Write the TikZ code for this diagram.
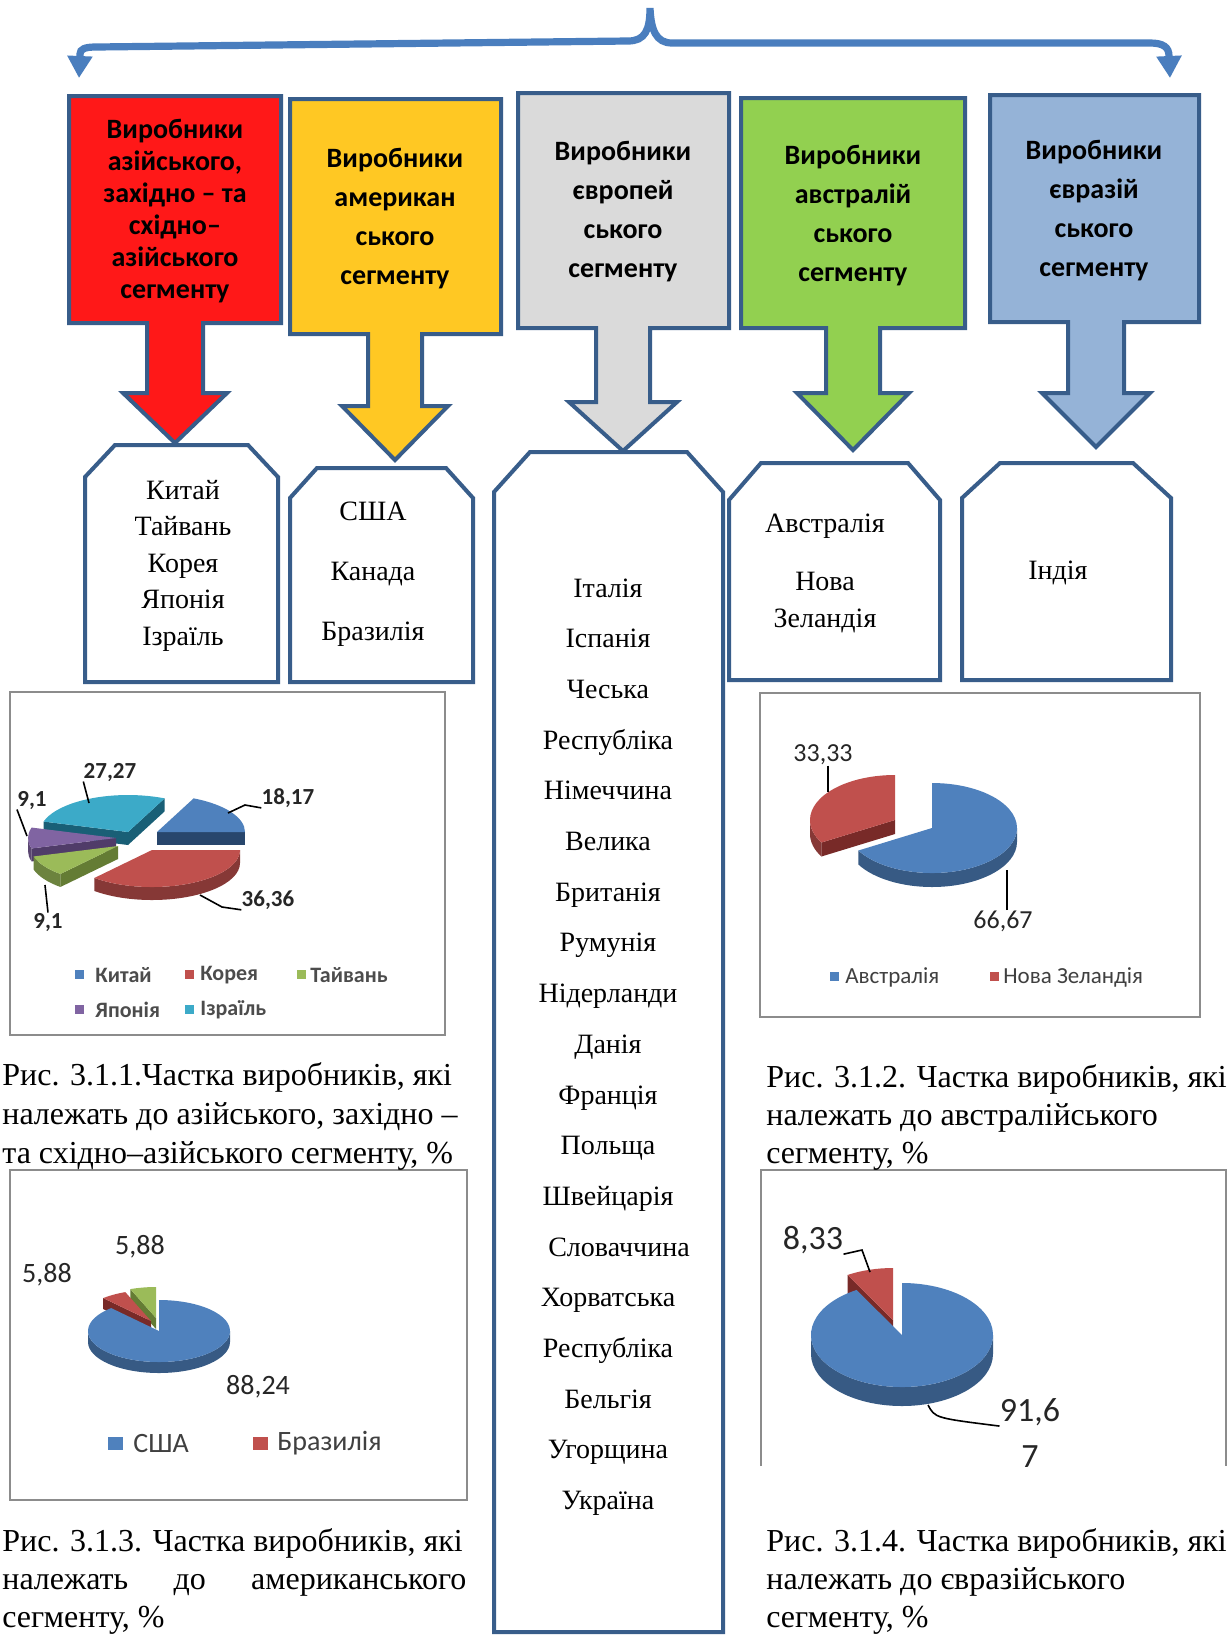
\documentclass[tikz,border=0pt]{standalone}
\usepackage{fontspec}
\setmainfont{Liberation Serif}
\newfontfamily\calfont{Carlito}
\usetikzlibrary{arrows.meta}
\definecolor{outl}{RGB}{56,93,138}
\definecolor{brc}{RGB}{74,126,190}
\definecolor{cred}{RGB}{255,24,24}
\definecolor{cyel}{RGB}{255,200,35}
\definecolor{cgray}{RGB}{218,218,218}
\definecolor{cgreen}{RGB}{146,208,80}
\definecolor{cblue}{RGB}{149,179,215}
\definecolor{pblue}{RGB}{79,129,189}\definecolor{pblued}{RGB}{40,70,108}
\definecolor{pred}{RGB}{192,80,77}\definecolor{predd}{RGB}{120,42,40}
\definecolor{pgreen}{RGB}{155,187,89}\definecolor{pgreend}{RGB}{100,124,52}
\definecolor{ppurple}{RGB}{128,100,162}\definecolor{ppurpled}{RGB}{80,60,105}
\definecolor{pcyan}{RGB}{60,170,200}\definecolor{pcyand}{RGB}{25,95,118}
\definecolor{frame}{RGB}{140,140,140}
\newcommand{\pslice}[8]{%
\begin{scope}[shift={(#1,#2)},yscale=-1]
\pgfmathtruncatemacro\vsa{cos(#3)>0.001}%
\pgfmathtruncatemacro\vsb{cos(#4)<-0.001}%
\pgfmathtruncatemacro\vss{#7<#8}%
\ifnum\vss=1
\fill[#5!70!black] ({\prx*cos(#7)},{\pry*sin(#7)}) arc[start angle=#7,end angle=#8,x radius=\prx,y radius=\pry] -- ++(0,-\pdp) arc[start angle=#8,end angle=#7,x radius=\prx,y radius=\pry] -- cycle;
\fi
\ifnum\vsa=1
\fill[#6] (0,0) -- ({\prx*cos(#3)},{\pry*sin(#3)}) -- ++(0,-\pdp) -- (0,-\pdp) -- cycle;
\fi
\ifnum\vsb=1
\fill[#6] (0,0) -- ({\prx*cos(#4)},{\pry*sin(#4)}) -- ++(0,-\pdp) -- (0,-\pdp) -- cycle;
\fi
\fill[#5] (0,0) -- ({\prx*cos(#3)},{\pry*sin(#3)}) arc[start angle=#3,end angle=#4,x radius=\prx,y radius=\pry] -- cycle;
\end{scope}}
\newcommand{\tagbox}[6]{\filldraw[wbox] (#1,#4) -- (#1,{#3+#6}) -- ({#1+#5},#3) -- ({#2-#5},#3) -- (#2,{#3+#6}) -- (#2,#4) -- cycle;}
\begin{document}
\begin{tikzpicture}[x=0.5pt,y=-0.5pt,
  cbox/.style={draw=outl,line width=2pt,line join=miter},
  wbox/.style={draw=outl,line width=2pt,fill=white,line join=miter},
  hd/.style={font=\calfont\bfseries\fontsize{14}{19.5}\selectfont,align=center,text=black,inner sep=0pt},
  wt/.style={font=\fontsize{14}{16}\selectfont,inner sep=0pt,anchor=base},
  captxt/.style={font=\fontsize{16}{18}\selectfont,inner sep=0pt,anchor=base west},
  frm/.style={draw=frame,line width=1.2pt},
  brace/.style={draw=brc,line width=3.6pt},
  lone/.style={font=\calfont\bfseries\fontsize{11.5}{13}\selectfont,inner sep=0pt,text=black!85},
  ltwo/.style={font=\calfont\fontsize{13}{15}\selectfont,inner sep=0pt,text=black!85},
  lthree/.style={font=\calfont\fontsize{14}{16}\selectfont,inner sep=0pt,text=black!85},
  lfour/.style={font=\calfont\fontsize{17}{19}\selectfont,inner sep=0pt,text=black!85},
  gone/.style={font=\calfont\bfseries\fontsize{11}{13}\selectfont,inner sep=0pt,anchor=west,text=black!70},
  gtwo/.style={font=\calfont\fontsize{11.5}{13}\selectfont,inner sep=0pt,anchor=west,text=black!75},
  gthree/.style={font=\calfont\fontsize{14}{16}\selectfont,inner sep=0pt,anchor=west,text=black!75},
  leader/.style={draw=black,line width=0.8pt}
]
\useasboundingbox (0,0) rectangle (1232,1635);
\fill[white] (0,0) rectangle (1232,1635);
% top brace
\coordinate (bL) at (79,78);
\coordinate (bR) at (1170,78);
\coordinate (bP) at (650,8);
\draw[brace,{Triangle[length=11pt,width=12pt]}-{Triangle[length=11pt,width=12pt]}]
 (bL) -- (80,54) .. controls (80,49) and (85,47) .. (96,47) -- (628,41)
 .. controls (645,41) and (650,30) .. (bP)
 .. controls (651,30) and (656,43) .. (672,43) -- (1150,43)
 .. controls (1163,43) and (1169,47) .. (1169,56) -- (bR);
% white boxes
\tagbox{85}{278}{445}{682}{30}{32}
\tagbox{290}{473}{468}{682}{27}{30}
\tagbox{494}{723}{452}{1632}{36}{40}
\tagbox{729}{940}{463}{680}{32}{37}
\tagbox{962}{1171}{463}{680}{38}{35}
% coloured callouts
\filldraw[cbox,fill=cred] (69,96) -- (281,96) -- (281,323) -- (203,323) -- (203,393) -- (227,393) -- (175,443) -- (123,393) -- (147,393) -- (147,323) -- (69,323) -- cycle;
\filldraw[cbox,fill=cyel] (290,99) -- (501,99) -- (501,334) -- (422,334) -- (422,406) -- (448,406) -- (395,460) -- (342,406) -- (368,406) -- (368,334) -- (290,334) -- cycle;
\filldraw[cbox,fill=cgray] (518,93) -- (729,93) -- (729,328) -- (650,328) -- (650,402) -- (677,402) -- (623,451) -- (569,402) -- (596,402) -- (596,328) -- (518,328) -- cycle;
\filldraw[cbox,fill=cgreen] (741,98) -- (965,98) -- (965,328) -- (880,328) -- (880,393) -- (909,393) -- (853,450) -- (797,393) -- (826,393) -- (826,328) -- (741,328) -- cycle;
\filldraw[cbox,fill=cblue] (990,95) -- (1199,95) -- (1199,322) -- (1124,322) -- (1124,393) -- (1150,393) -- (1096,447) -- (1042,393) -- (1068,393) -- (1068,322) -- (990,322) -- cycle;
% header texts
\node[hd,font=\calfont\bfseries\fontsize{14}{16}\selectfont] (hRed) at (175,211) {Виробники\\азійського,\\західно – та\\східно–\\азійського\\сегменту};
\node[hd] (hYel) at (395,219) {Виробники\\американ\\ського\\сегменту};
\node[hd] (hGray) at (623,212) {Виробники\\європей\\ського\\сегменту};
\node[hd] (hGreen) at (853,216) {Виробники\\австралій\\ського\\сегменту};
\node[hd] (hBlue) at (1094,211) {Виробники\\євразій\\ського\\сегменту};
% white box texts
\foreach \t [count=\i] in {Китай,Тайвань,Корея,Японія,Ізраїль}
  \node[wt] (as\i) at (183,{499+36.6*(\i-1)}) {\t};
\foreach \t [count=\i] in {США,Канада,Бразилія}
  \node[wt] (am\i) at (373,{520+60*(\i-1)}) {\t};
\foreach \t [count=\i] in {Італія,Іспанія,Чеська,Республіка,Німеччина,Велика,Британія,Румунія,Нідерланди,Данія,Франція,Польща,Швейцарія,\hspace*{11pt}Словаччина,Хорватська,Республіка,Бельгія,Угорщина,Україна}
  \node[wt] (eu\i) at (608,{597+50.7*(\i-1)}) {\t};
\node[wt] (au1) at (825,532) {Австралія};
\node[wt] (au2) at (825,590) {Нова};
\node[wt] (au3) at (825,627) {Зеландія};
\node[wt] (in1) at (1058,579) {Індія};
% chart frames
\draw[frm] (10,692) rectangle (445,1035);
\draw[frm] (760,693) rectangle (1200,1017);
\draw[frm] (10,1170) rectangle (467,1500);
\draw[frm] (761,1466) -- (761,1170) -- (1226,1170) -- (1226,1466);
% pie 1
\def\prx{88}\def\pry{37}\def\pdp{13}
\pslice{128}{832}{65.4}{163.6}{pcyan}{pcyand}{0}{0}
\pslice{157}{832}{0}{65.4}{pblue}{pblued}{0}{0}
\pslice{116}{838}{163.6}{196.4}{ppurple}{ppurpled}{180}{196.4}
\pslice{118}{846}{196.4}{229.1}{pgreen}{pgreend}{196.4}{229.1}
\pslice{152}{850}{229.1}{360}{pred}{predd}{229.1}{360}
\node[lone] (p1a) at (110,772) {27,27};
\node[lone] (p1b) at (32,800) {9,1};
\node[lone] (p1c) at (288,798) {18,17};
\node[lone] (p1d) at (268,900) {36,36};
\node[lone] (p1e) at (48,922) {9,1};
\coordinate (s1a) at (89,803);
\coordinate (s1b) at (27,836);
\coordinate (k1c) at (245,805);
\coordinate (s1c) at (228,813);
\coordinate (k1d) at (222,907);
\coordinate (s1d) at (200,895);
\coordinate (s1e) at (45,885);
\draw[leader] (p1a.south west) -- (s1a);
\draw[leader] (p1b.south west) -- (s1b);
\draw[leader] (p1c.south west) -- (k1c) -- (s1c);
\draw[leader] (p1d.south west) -- (k1d) -- (s1d);
\draw[leader] (p1e.north) -- (s1e);
\fill[pblue] (75,970) rectangle (84,979);
\node[gone] (g1a) at (95,975) {Китай};
\fill[pred] (185,970) rectangle (194,979);
\node[gone] (g1b) at (200,975) {Корея};
\fill[pgreen] (297,970) rectangle (306,979);
\node[gone] (g1c) at (310,975) {Тайвань};
\fill[ppurple] (75,1005) rectangle (84,1014);
\node[gone] (g1d) at (95,1010) {Японія};
\fill[pcyan] (185,1005) rectangle (194,1014);
\node[gone] (g1e) at (200,1010) {Ізраїль};
% pie 2
\def\prx{85}\def\pry{45}\def\pdp{14}
\pslice{895}{820}{90}{210}{pred}{predd}{180}{210}
\pslice{932}{828}{210}{450}{pblue}{pblued}{210}{360}
\node[ltwo] (p2a) at (823,755) {33,33};
\node[ltwo] (p2b) at (1003,921) {66,67};
\coordinate (s2a) at (828,792);
\coordinate (s2b) at (1007,870);
\draw[leader] (s2a |- p2a.south) -- (s2a);
\draw[leader] (s2b |- p2b.north) -- (s2b);
\fill[pblue] (830,972) rectangle (839,981);
\node[gtwo] (g2a) at (845,977) {Австралія};
\fill[pred] (990,972) rectangle (999,981);
\node[gtwo] (g2b) at (1003,977) {Нова Зеландія};
% pie 3
\def\prx{71}\def\pry{31}\def\pdp{11}
\pslice{156}{1318}{90}{111.2}{pgreen}{pgreend}{0}{0}
\pslice{151}{1321}{111.2}{132.3}{pred}{predd}{0}{0}
\pslice{159}{1331}{132.3}{450}{pblue}{pblued}{180}{360}
\node[lthree] (p3a) at (140,1247) {5,88};
\node[lthree] (p3b) at (47,1275) {5,88};
\node[lthree] (p3c) at (258,1387) {88,24};
\fill[pblue] (108,1437) rectangle (123,1450);
\node[gthree] (g3a) at (133,1443) {США};
\fill[pred] (253,1437) rectangle (268,1450);
\node[gthree] (g3b) at (277,1443) {Бразилія};
% pie 4
\def\prx{91}\def\pry{52}\def\pdp{19}
\pslice{893}{1320}{90}{120}{pred}{predd}{0}{0}
\pslice{902}{1335}{120}{450}{pblue}{pblued}{180}{360}
\node[lfour] (p4a) at (813,1240) {8,33};
\node[lfour] (p4b) at (1030,1412) {91,6};
\node[lfour] (p4c) at (1030,1457) {7};
\coordinate (k4a) at (862,1250);
\coordinate (s4a) at (870,1272);
\coordinate (s4b) at (928,1405);
\draw[leader] (p4a.south east) -- (k4a) -- (s4a);
\draw[leader] (s4b) .. controls (935,1418) .. (p4b.south west);
% captions
\node[captxt] (c1a) at (2,1085) {Рис. 3.1.1.Частка виробників, які};
\node[captxt] (c1b) at (2,1124) {належать до азійського, західно –};
\node[captxt] (c1c) at (2,1163) {та східно–азійського сегменту, \%};
\node[captxt] (c2a) at (766,1087) {Рис. 3.1.2. Частка виробників, які};
\node[captxt] (c2b) at (766,1125) {належать до австралійського};
\node[captxt] (c2c) at (766,1163) {сегменту, \%};
\node[captxt] (c3a) at (2,1551) {Рис. 3.1.3. Частка виробників, які};
\node[captxt] (c3b) at (2,1589) {\makebox[232pt][s]{належать до американського}};
\node[captxt] (c3c) at (2,1627) {сегменту, \%};
\node[captxt] (c4a) at (766,1551) {Рис. 3.1.4. Частка виробників, які};
\node[captxt] (c4b) at (766,1589) {належать до євразійського};
\node[captxt] (c4c) at (766,1627) {сегменту, \%};
\end{tikzpicture}
\end{document}
